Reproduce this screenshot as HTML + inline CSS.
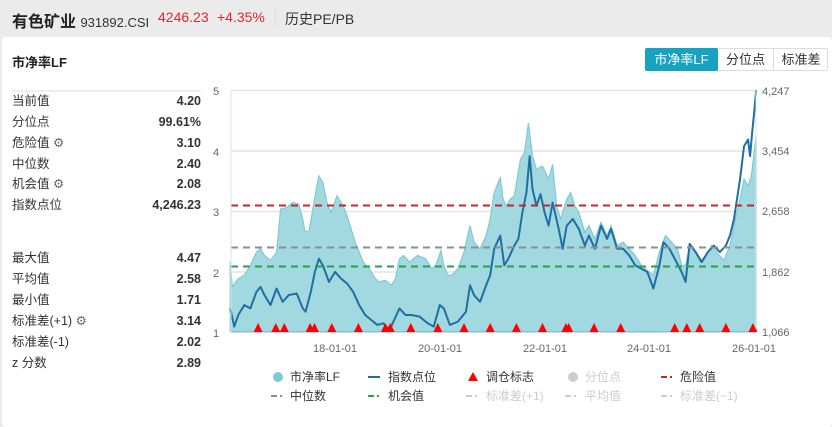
<!DOCTYPE html>
<html><head><meta charset="utf-8"><style>
body{margin:0;width:832px;height:420px;background:#ebebeb;font-family:"Liberation Sans","Noto Sans CJK SC",sans-serif;position:relative;overflow:hidden}
.card{position:absolute;left:2px;top:37px;width:830px;height:390px;background:#fff;border-radius:4px}
.a{position:absolute;white-space:nowrap}
.row{position:absolute;left:12px;width:189px;font-size:12.5px;color:#333;line-height:16px}
.row b{position:absolute;right:0;top:0;font-weight:bold}
</style></head><body>
<div class="a" style="left:12px;top:8px;font-size:16px;font-weight:bold;color:#222">有色矿业 <span style="font-weight:normal;font-size:13px;color:#333">931892.CSI</span></div>
<div class="a" style="left:158px;top:9px;font-size:14px;color:#e0282e">4246.23</div>
<div class="a" style="left:217px;top:9px;font-size:14px;color:#e0282e">+4.35%</div>
<div class="a" style="left:275px;top:8px;width:1px;height:18px;background:#ddd"></div>
<div class="a" style="left:285px;top:9px;font-size:14px;color:#333">历史PE/PB</div>
<div class="card"></div>
<div class="a" style="left:12px;top:52px;font-size:13px;font-weight:bold;color:#222">市净率LF</div>
<div class="a" style="left:645px;top:48px;width:183px;height:23px;border:1px solid #ddd;box-sizing:border-box;border-radius:2px;font-size:13px;color:#333">
<div class="a" style="left:-1px;top:-1px;width:73px;height:23px;background:#17a2c2;color:#fff;text-align:center;line-height:23px;border-radius:2px">市净率LF</div>
<div class="a" style="left:72px;top:0;width:55px;line-height:21px;text-align:center;border-right:1px solid #ddd">分位点</div>
<div class="a" style="left:128px;top:0;width:54px;line-height:21px;text-align:center">标准差</div></div>
<div class="a" style="left:12px;top:90px;width:189px;height:2px;background:#eee"></div>
<div class="row" style="top:93px">当前值<b>4.20</b></div>
<div class="row" style="top:114px">分位点<b>99.61%</b></div>
<div class="row" style="top:135px">危险值 <span style="color:#666">⚙</span><b>3.10</b></div>
<div class="row" style="top:156px">中位数<b>2.40</b></div>
<div class="row" style="top:176px">机会值 <span style="color:#666">⚙</span><b>2.08</b></div>
<div class="row" style="top:197px">指数点位<b>4,246.23</b></div>
<div class="row" style="top:250px">最大值<b>4.47</b></div>
<div class="row" style="top:271px">平均值<b>2.58</b></div>
<div class="row" style="top:292px">最小值<b>1.71</b></div>
<div class="row" style="top:313px">标准差(+1) <span style="color:#666">⚙</span><b>3.14</b></div>
<div class="row" style="top:334px">标准差(-1)<b>2.02</b></div>
<div class="row" style="top:355px">z 分数<b>2.89</b></div>
<svg class="a" style="left:0;top:0" width="832" height="420">
<g font-size="11" fill="#666" font-family="Liberation Sans,sans-serif">
<text x="213" y="95">5</text><text x="213" y="156">4</text><text x="213" y="216">3</text><text x="213" y="277">2</text><text x="213" y="337">1</text>
<text x="762" y="95">4,247</text><text x="762" y="155">3,454</text><text x="762" y="215">2,658</text><text x="762" y="276">1,862</text><text x="762" y="336">1,066</text>
<text x="335" y="352" text-anchor="middle">18-01-01</text><text x="440" y="352" text-anchor="middle">20-01-01</text><text x="545" y="352" text-anchor="middle">22-01-01</text><text x="649" y="352" text-anchor="middle">24-01-01</text><text x="754" y="352" text-anchor="middle">26-01-01</text>
</g>
<g stroke="#e4e4e4" stroke-width="1.5"><line x1="231" y1="90.5" x2="756" y2="90.5"/><line x1="231" y1="151" x2="756" y2="151"/><line x1="231" y1="211.5" x2="756" y2="211.5"/><line x1="231" y1="272" x2="756" y2="272"/></g>
<g transform="translate(200,80) scale(0.403,0.331)">
<path fill="#a2d9e1" stroke="#7fcad6" stroke-width="1.2" vector-effect="non-scaling-stroke" d="M75,760 L75,550 80,625 95,600 110,590 125,560 140,520 150,510 160,530 175,545 190,520 200,390 215,385 230,370 245,375 255,420 260,455 270,460 280,390 290,320 295,290 305,310 315,370 325,400 340,350 355,380 365,410 375,450 385,490 395,520 405,550 420,570 435,600 445,610 460,605 475,620 485,600 495,540 505,530 520,550 540,530 560,540 575,570 585,560 598,515 605,560 615,590 625,590 640,570 655,520 670,440 680,490 695,510 710,470 720,420 730,340 745,295 752,360 760,380 770,360 780,350 795,240 805,220 815,130 825,230 835,270 850,260 865,300 875,255 885,380 895,420 910,360 920,340 930,380 940,400 955,460 965,440 980,480 995,430 1010,470 1020,440 1035,500 1050,490 1065,510 1080,530 1095,560 1110,575 1125,590 1140,520 1155,470 1170,490 1185,510 1195,560 1205,560 1215,500 1225,510 1240,550 1255,530 1270,500 1285,525 1300,545 1315,500 1325,440 1340,360 1350,300 1360,320 1368,290 1375,220 1380,170 1380,760Z"/>
<path fill="none" stroke="#1f6fa0" stroke-width="2" vector-effect="non-scaling-stroke" stroke-linejoin="round" d="M75,690 85,745 95,710 110,680 125,690 140,640 150,625 160,650 175,680 190,630 205,670 220,650 240,645 255,690 262,700 275,640 285,580 295,540 305,560 320,610 335,580 350,600 365,615 380,640 395,680 410,710 425,725 440,740 455,735 470,755 480,730 495,690 510,710 525,710 545,715 565,735 580,745 595,680 605,690 620,740 640,730 660,700 670,620 680,650 695,670 710,620 720,590 730,510 745,470 755,560 765,540 780,500 790,480 800,400 810,340 818,230 825,330 835,380 845,345 855,400 865,440 875,370 890,450 900,510 910,440 925,420 940,450 955,500 965,470 980,510 995,440 1010,480 1020,450 1035,510 1050,510 1065,530 1080,560 1095,570 1110,580 1125,630 1140,560 1150,490 1165,510 1180,545 1195,580 1205,610 1215,495 1230,520 1245,550 1260,520 1275,500 1290,520 1305,500 1315,470 1325,420 1340,300 1350,200 1360,180 1365,230 1370,160 1375,100 1380,30"/>
</g>
<g stroke-width="2" stroke-dasharray="7,5"><line x1="231" y1="205.5" x2="756" y2="205.5" stroke="#c0282e"/><line x1="231" y1="247.5" x2="756" y2="247.5" stroke="#8a8f96"/><line x1="231" y1="266.5" x2="756" y2="266.5" stroke="#2aa04a"/></g>
<line x1="231" y1="90" x2="231" y2="332" stroke="#d6e2ee"/><line x1="756" y1="90" x2="756" y2="332" stroke="#d6e2ee"/>
<line x1="231" y1="332.5" x2="756" y2="332.5" stroke="#ccd6eb"/>
<g fill="#f00">
<path d="M253.6,332l4.5,-9 4.5,9z"/><path d="M271.3,332l4.5,-9 4.5,9z"/><path d="M279.8,332l4.5,-9 4.5,9z"/><path d="M305.6,332l4.5,-9 4.5,9z"/><path d="M310,332l4.5,-9 4.5,9z"/><path d="M327.3,332l4.5,-9 4.5,9z"/><path d="M353.9,332l4.5,-9 4.5,9z"/><path d="M380.9,332l4.5,-9 4.5,9z"/><path d="M385.7,332l4.5,-9 4.5,9z"/><path d="M406.3,332l4.5,-9 4.5,9z"/><path d="M433.3,332l4.5,-9 4.5,9z"/><path d="M459.5,332l4.5,-9 4.5,9z"/><path d="M485.7,332l4.5,-9 4.5,9z"/><path d="M511.9,332l4.5,-9 4.5,9z"/><path d="M538,332l4.5,-9 4.5,9z"/><path d="M561.4,332l4.5,-9 4.5,9z"/><path d="M564.2,332l4.5,-9 4.5,9z"/><path d="M589.6,332l4.5,-9 4.5,9z"/><path d="M616.2,332l4.5,-9 4.5,9z"/><path d="M670.2,332l4.5,-9 4.5,9z"/><path d="M682.3,332l4.5,-9 4.5,9z"/><path d="M695.2,332l4.5,-9 4.5,9z"/><path d="M721.4,332l4.5,-9 4.5,9z"/><path d="M748.4,332l4.5,-9 4.5,9z"/>
</g>
<g font-size="12" font-family="Liberation Sans,Noto Sans CJK SC,sans-serif" fill="#333">
<circle cx="278" cy="377" r="5" fill="#7fcad6"/><text x="290" y="381">市净率LF</text>
<line x1="368" y1="377" x2="380" y2="377" stroke="#1f6fa0" stroke-width="2"/><text x="388" y="381">指数点位</text>
<path d="M468,381l5,-9 5,9z" fill="#f00"/><text x="486" y="381">调仓标志</text>
<circle cx="573" cy="377" r="5" fill="#ccc"/><text x="585" y="381" fill="#ccc">分位点</text>
<path d="M661,377h6M670,377h2" stroke="#c0282e" stroke-width="2"/><text x="680" y="381">危险值</text>
<path d="M271,396h6M280,396h2" stroke="#8a8f96" stroke-width="2"/><text x="290" y="400">中位数</text>
<path d="M368,396h6M377,396h2" stroke="#2aa04a" stroke-width="2"/><text x="388" y="400">机会值</text>
<path d="M466,396h6M475,396h2" stroke="#ccc" stroke-width="2"/><text x="486" y="400" fill="#ccc">标准差(+1)</text>
<path d="M565,396h6M574,396h2" stroke="#ccc" stroke-width="2"/><text x="585" y="400" fill="#ccc">平均值</text>
<path d="M661,396h6M670,396h2" stroke="#ccc" stroke-width="2"/><text x="680" y="400" fill="#ccc">标准差(−1)</text>
</g>
</svg>
</body></html>
